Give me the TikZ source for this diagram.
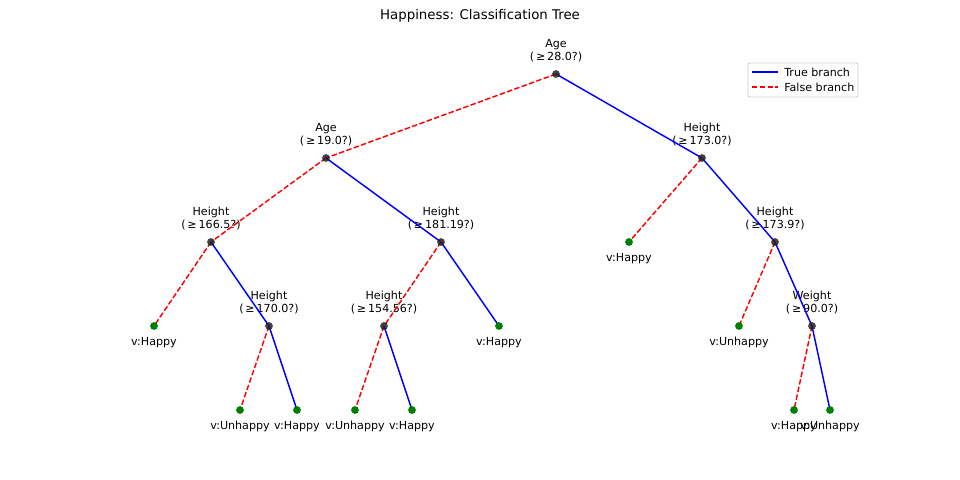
\documentclass[tikz,border=0pt]{standalone}
\usepackage{fontspec}
\setmainfont{DejaVu Sans}
\definecolor{mgreen}{HTML}{008000}
\definecolor{mdark}{HTML}{222222}
\definecolor{legborder}{HTML}{CCCCCC}
\begin{document}
\begin{tikzpicture}[x=0.72pt,y=-0.72pt,
  truebr/.style={draw=blue,line width=1.05pt},
  falsebr/.style={draw=red,line width=1.05pt,dash pattern=on 3.9pt off 1.7pt},
  inner/.style={circle,fill=mdark,fill opacity=0.85,inner sep=0pt,minimum size=5.6pt},
  leaf/.style={circle,fill=mgreen,inner sep=0pt,minimum size=5.6pt},
  lab/.style={font=\fontsize{8pt}{9.4pt}\selectfont,align=center,anchor=south,inner sep=0pt},
  leaflab/.style={font=\fontsize{8pt}{9.4pt}\selectfont,inner sep=0pt,text height=6pt,text depth=1.8pt}]
\useasboundingbox (0,0) rectangle (960,480);
\node[font=\fontsize{9.6pt}{11pt}\selectfont,inner sep=0pt] (title) at (480,16) {Happiness: Classification Tree};
% positions
\coordinate (r) at (556,74);
\coordinate (a19) at (326,158);
\coordinate (h173) at (702,158);
\coordinate (h1665) at (211,242);
\coordinate (h18119) at (441,242);
\coordinate (l1) at (629,242);
\coordinate (h1739) at (775,242);
\coordinate (l2) at (154,326);
\coordinate (h170) at (269,326);
\coordinate (h15456) at (384,326);
\coordinate (l3) at (499,326);
\coordinate (l4) at (739,326);
\coordinate (w90) at (812,326);
\coordinate (l5) at (240,410);
\coordinate (l6) at (297,410);
\coordinate (l7) at (355,410);
\coordinate (l8) at (412,410);
\coordinate (l9) at (794,410);
\coordinate (l10) at (830,410);
% labels
\node[lab] (tr) at (556,62) {Age\\(\,≥\,28.0?)};
\node[lab] (ta19) at (326,146) {Age\\(\,≥\,19.0?)};
\node[lab] (th173) at (702,146) {Height\\(\,≥\,173.0?)};
\node[lab] (th1665) at (211,230) {Height\\(\,≥\,166.5?)};
\node[lab] (th18119) at (441,230) {Height\\(\,≥\,181.19?)};
\node[lab] (th1739) at (775,230) {Height\\(\,≥\,173.9?)};
\node[lab] (th170) at (269,314) {Height\\(\,≥\,170.0?)};
\node[lab] (th15456) at (384,314) {Height\\(\,≥\,154.56?)};
\node[lab] (tw90) at (812,314) {Weight\\(\,≥\,90.0?)};
\node[leaflab] (tl1) at (629,259) {v:Happy};
\node[leaflab] (tl2) at (154,343) {v:Happy};
\node[leaflab] (tl3) at (499,343) {v:Happy};
\node[leaflab] (tl4) at (739,343) {v:Unhappy};
\node[leaflab] (tl5) at (240,427) {v:Unhappy};
\node[leaflab] (tl6) at (297,427) {v:Happy};
\node[leaflab] (tl7) at (355,427) {v:Unhappy};
\node[leaflab] (tl8) at (412,427) {v:Happy};
\node[leaflab] (tl9) at (794,427) {v:Happy};
\node[leaflab] (tl10) at (830,427) {v:Unhappy};
% edges
\draw[falsebr] (r) -- (a19);
\draw[truebr] (r) -- (h173);
\draw[falsebr] (a19) -- (h1665);
\draw[truebr] (a19) -- (h18119);
\draw[falsebr] (h173) -- (l1);
\draw[truebr] (h173) -- (h1739);
\draw[falsebr] (h1665) -- (l2);
\draw[truebr] (h1665) -- (h170);
\draw[falsebr] (h18119) -- (h15456);
\draw[truebr] (h18119) -- (l3);
\draw[falsebr] (h1739) -- (l4);
\draw[truebr] (h1739) -- (w90);
\draw[falsebr] (h170) -- (l5);
\draw[truebr] (h170) -- (l6);
\draw[falsebr] (h15456) -- (l7);
\draw[truebr] (h15456) -- (l8);
\draw[falsebr] (w90) -- (l9);
\draw[truebr] (w90) -- (l10);
% markers
\foreach \n in {r,a19,h173,h1665,h18119,h1739,h170,h15456,w90}
  \node[inner] (m\n) at (\n) {};
\foreach \n in {l1,l2,l3,l4,l5,l6,l7,l8,l9,l10}
  \node[leaf] (m\n) at (\n) {};
% legend
\node[draw=legborder,fill=white,fill opacity=0.8,draw opacity=1,rounded corners=1.5pt,line width=0.6pt,minimum width=110*0.72pt,minimum height=34*0.72pt,inner sep=0pt] (legend) at (803,80) {};
\coordinate (la1) at (752,72);
\coordinate (la2) at (778,72);
\coordinate (lb1) at (752,87);
\coordinate (lb2) at (778,87);
\draw[truebr] (la1) -- (la2);
\draw[falsebr] (lb1) -- (lb2);
\node[leaflab,anchor=west] (lt) at (784,73.5) {True branch};
\node[leaflab,anchor=west] (lf) at (784,88.5) {False branch};
\end{tikzpicture}
\end{document}
